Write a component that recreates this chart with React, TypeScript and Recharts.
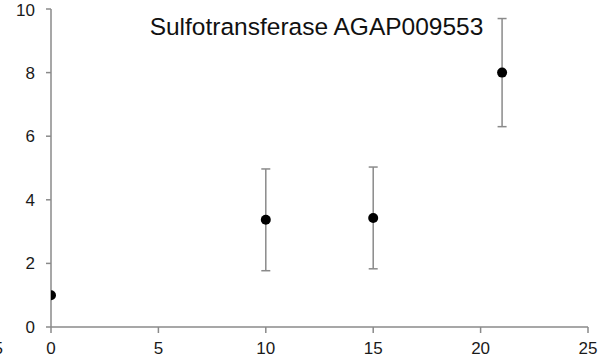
import { ScatterChart, Scatter, XAxis, YAxis, ErrorBar } from "recharts"

const days = [0, 10, 15, 21]
const expression = [1, 3.37, 3.43, 8]
const errors = [0, 1.6, 1.6, 1.7]
const xTicks = [0, 5, 10, 15, 20, 25]
const yTicks = [0, 2, 4, 6, 8, 10]
const title = "Sulfotransferase AGAP009553"

const data = days.map((d, i) => ({ x: d, y: expression[i], err: errors[i] }))

const axisColor = "#8a8a8a"
const font = "'Liberation Sans', Arial, sans-serif"

export default function App() {
  return (
    <div style={{ position: "absolute", left: 0, top: 0, width: 607, height: 357, background: "#fff" }}>
      <ScatterChart width={607} height={357} margin={{ top: 9, right: 19, bottom: 0, left: 0 }}>
        <XAxis
          type="number"
          dataKey="x"
          domain={[0, 25]}
          ticks={xTicks}
          height={30}
          stroke={axisColor}
          strokeWidth={1.5}
          tickSize={6}
          tickMargin={9}
          tick={{ fill: "#1a1a1a", fontSize: 17, fontFamily: font }}
          allowDataOverflow
        />
        <YAxis
          type="number"
          dataKey="y"
          domain={[0, 10]}
          ticks={yTicks}
          width={51}
          stroke={axisColor}
          strokeWidth={1.5}
          tickSize={5}
          tickMargin={11}
          tick={{ fill: "#1a1a1a", fontSize: 17, fontFamily: font }}
          allowDataOverflow
        />
        <Scatter data={data} fill="#000" isAnimationActive={false} shape={(p: any) => <circle cx={p.cx} cy={p.cy} r={5} fill="#000" />}>
          <ErrorBar dataKey="err" direction="y" width={4.5} stroke={axisColor} strokeWidth={1.5} />
        </Scatter>
        <text x={316.5} y={35} textAnchor="middle" fontSize={24.5} fontFamily={font} fill="#111">
          {title}
        </text>
        <text x={3} y={354} textAnchor="end" fontSize={17} fontFamily={font} fill="#1a1a1a">
          -5
        </text>
      </ScatterChart>
    </div>
  )
}
